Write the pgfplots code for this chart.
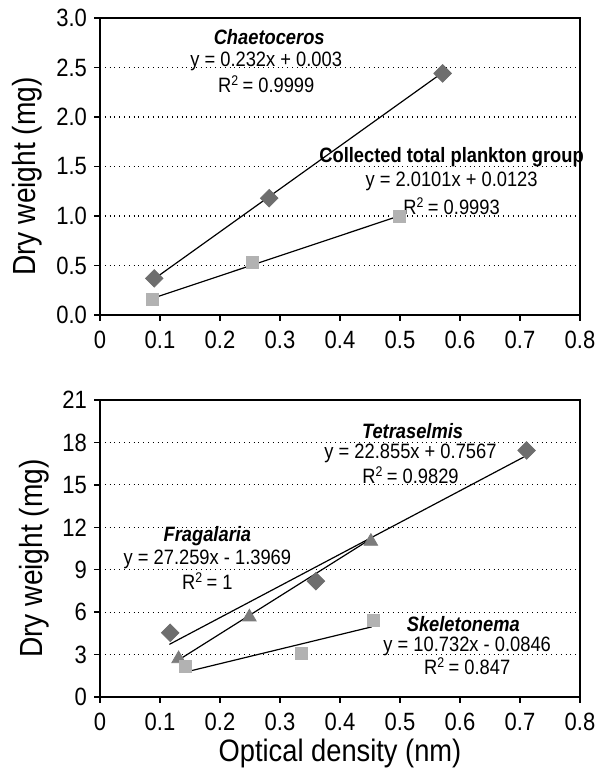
\documentclass[border=0pt]{standalone}
\usepackage{fontspec}
\setmainfont{Liberation Sans}[FakeStretch=0.88]
\usepackage{pgfplots}
\pgfplotsset{compat=1.18}
\definecolor{dia}{HTML}{6E6E6E}
\definecolor{sq}{HTML}{B2B2B2}
\definecolor{tri}{HTML}{7C7C7C}
\pgfplotsset{
  myax/.style={
    scale only axis, width=240pt, height=148.5pt,
    xmin=0, xmax=0.8, xtick={0,0.1,...,0.8},
    axis line style={black, line width=0.9pt},
    tick style={black, line width=0.7pt},
    tick align=outside, major tick length=3pt,
    xtick pos=bottom, ytick pos=left,
    ymajorgrids, grid style={black, dotted, line width=0.6pt},
    /pgf/number format/assume math mode=true,
    tick label style={font=\fontsize{12.5}{14}\selectfont},
    xticklabel style={yshift=-1.5pt},
    ylabel style={font=\fontsize{16}{18}\selectfont},
    xlabel style={font=\fontsize{15.5}{17}\selectfont},
    clip=false,
    xticklabel={\pgfmathprintnumber[fixed]{\tick}},
  },
  dmark/.style={only marks, mark=square*, mark size=3.1pt, mark options={rotate=45, fill=dia, draw=dia}},
  smark/.style={only marks, mark=square*, mark size=3pt, mark options={fill=sq, draw=sq}},
  tmark/.style={only marks, mark=triangle*, mark size=3.9pt, mark options={fill=tri, draw=tri}},
}
\tikzset{
  ann/.style={font=\fontsize{10.4}{11}\selectfont, inner sep=0pt},
  annb/.style={font=\fontsize{10.4}{11}\selectfont\bfseries\itshape, inner sep=0pt},
}
\begin{document}
\begin{tikzpicture}
\useasboundingbox (0pt,0pt) rectangle (297pt,387pt);
% top panel
\begin{axis}[myax, at={(50pt,229.5pt)}, anchor=south west,
  ymin=0, ymax=3, ytick={0,0.5,...,3},
  yticklabel={\pgfmathprintnumber[fixed,fixed zerofill,precision=1]{\tick}},
  ylabel={Dry weight (mg)}, ylabel style={at={(ticklabel cs:0.5)}, xshift=-5pt}]
\addplot[black, line width=0.6pt] coordinates {(0.0904,0.365) (0.569,2.44)};
\addplot[black, line width=0.6pt] coordinates {(0.087,0.167) (0.495,0.993)};
\addplot[dmark] coordinates {(0.0904,0.37) (0.282,1.18) (0.571,2.44)};
\addplot[smark] coordinates {(0.087,0.157) (0.254,0.535) (0.4986,1.0)};
\node[annb] at (axis cs:0.282,2.81) {Chaetoceros};
\node[ann] at (axis cs:0.277,2.565) {y = 0.232x + 0.003};
\node[ann] at (axis cs:0.277,2.33) {R\textsuperscript{\scriptsize 2}\,= 0.9999};
\node[font=\fontsize{10.4}{11}\selectfont\bfseries, inner sep=0pt] at (axis cs:0.586,1.59) {Collected total plankton group};
\node[ann] at (axis cs:0.586,1.345) {y = 2.0101x + 0.0123};
\node[ann] at (axis cs:0.586,1.10) {R\textsuperscript{\scriptsize 2}\,= 0.9993};
\end{axis}
% bottom panel
\begin{axis}[myax, at={(50pt,38.5pt)}, anchor=south west,
  ymin=0, ymax=21, ytick={0,3,...,21},
  ylabel={Dry weight (mg)}, ylabel style={at={(ticklabel cs:0.5)}, xshift=-5pt},
  xlabel={Optical density (nm)}, xlabel style={yshift=2.5pt}]
\addplot[black, line width=0.6pt] coordinates {(0.1156,3.72) (0.706,16.96)};
\addplot[black, line width=0.6pt] coordinates {(0.134,2.7) (0.4515,11.18)};
\addplot[black, line width=0.6pt] coordinates {(0.150,1.84) (0.453,4.96)};
\addplot[dmark] coordinates {(0.117,4.54) (0.360,8.19) (0.711,17.43)};
\addplot[tmark] coordinates {(0.131,2.7) (0.249,5.65) (0.4515,11.0)};
\addplot[smark] coordinates {(0.1425,2.19) (0.335,3.08) (0.456,5.43)};
\node[annb] at (axis cs:0.521,18.78) {Tetraselmis};
\node[ann] at (axis cs:0.5175,17.2) {y = 22.855x + 0.7567};
\node[ann] at (axis cs:0.5175,15.67) {R\textsuperscript{\scriptsize 2}\,= 0.9829};
\node[annb] at (axis cs:0.179,11.36) {Fragalaria};
\node[ann] at (axis cs:0.179,9.76) {y = 27.259x - 1.3969};
\node[ann] at (axis cs:0.179,8.19) {R\textsuperscript{\scriptsize 2}\,= 1};
\node[annb] at (axis cs:0.6055,5.13) {Skeletonema};
\node[ann] at (axis cs:0.612,3.6) {y = 10.732x - 0.0846};
\node[ann] at (axis cs:0.612,2.19) {R\textsuperscript{\scriptsize 2}\,= 0.847};
\end{axis}
\end{tikzpicture}
\end{document}
